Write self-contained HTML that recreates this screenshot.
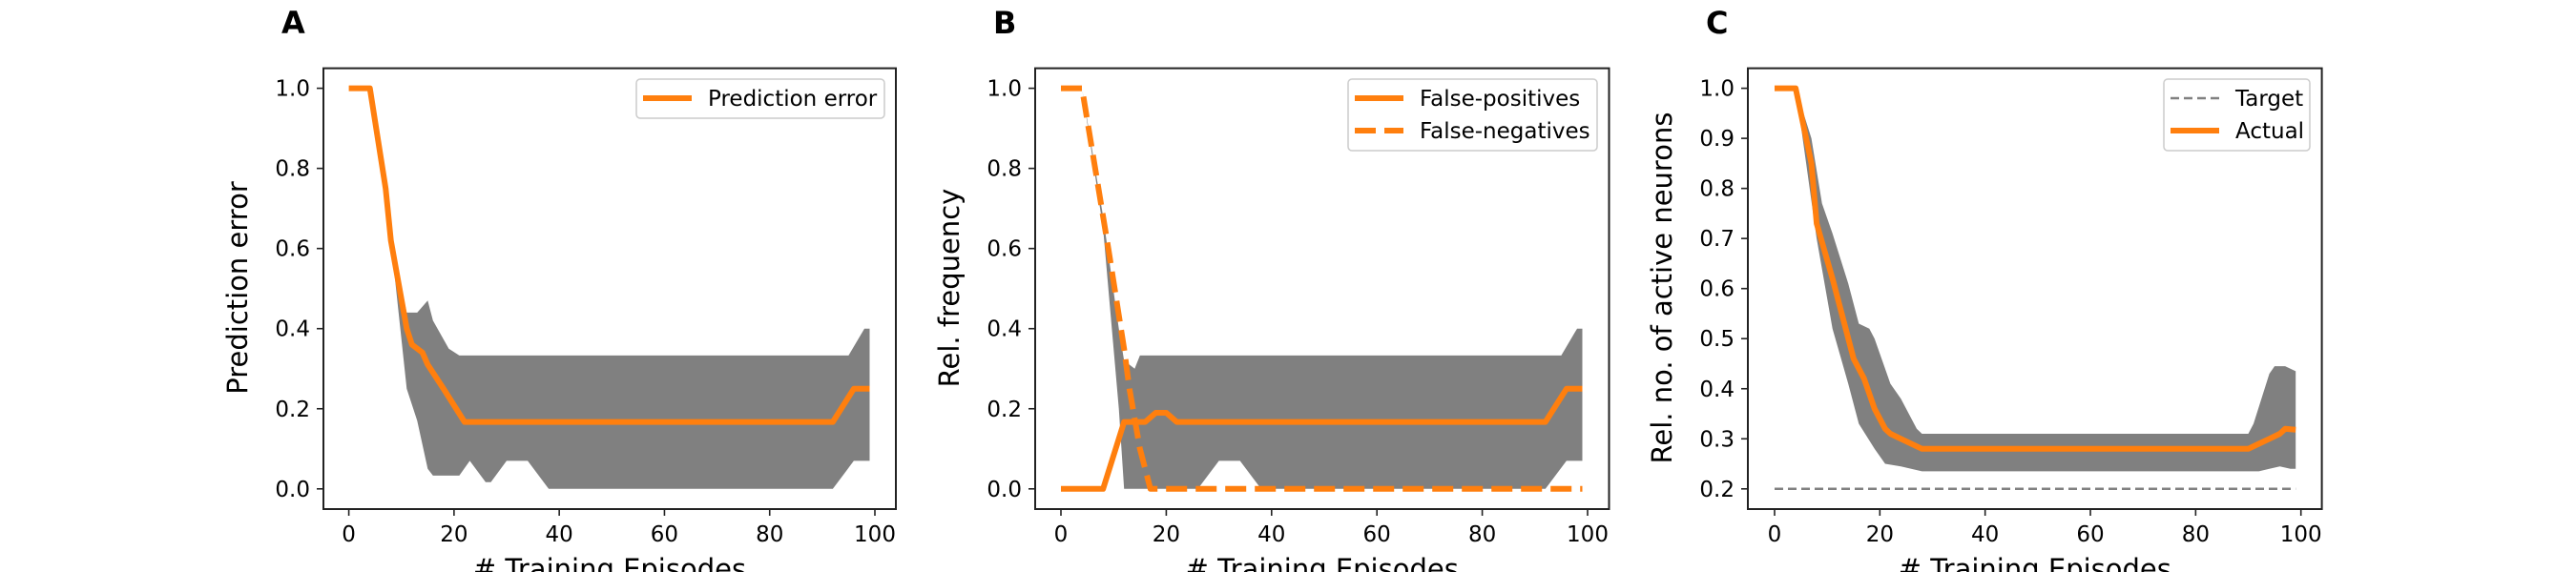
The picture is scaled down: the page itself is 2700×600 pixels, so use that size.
<!DOCTYPE html>
<html><head><meta charset="utf-8"><style>
html,body{margin:0;padding:0;background:#fff;}
svg{display:block;font-family:"DejaVu Sans","Liberation Sans",sans-serif;}
</style></head><body>
<svg id="fig" width="2700" height="600" viewBox="0 0 2700 600" xmlns="http://www.w3.org/2000/svg"></svg>
<script>
// ---- data (vertices of each polyline) ----
const aMeanX = [0,4,7,8,11,12,14,15,18,22,92,96,99];
const aMeanY = [1,1,0.75,0.62,0.4,0.36,0.34,0.31,0.25,0.167,0.167,0.25,0.25];
const aUpX = [0,4,7,8,11,13,15,16,19,21,95,98,99];
const aUpY = [1,1,0.75,0.62,0.44,0.44,0.47,0.42,0.35,0.333,0.333,0.4,0.4];
const aLoX = [0,4,7,8,11,13,15,16,21,23,26,27,30,34,38,92,96,99];
const aLoY = [1,1,0.75,0.62,0.25,0.17,0.05,0.033,0.033,0.07,0.017,0.017,0.07,0.07,0,0,0.07,0.07];

const bFpX = [0,8,12,16,18,20,22,92,96,99];
const bFpY = [0,0,0.167,0.167,0.19,0.19,0.167,0.167,0.25,0.25];
const bFnX = [0,4,9,12,13,15,17,99];
const bFnY = [1,1,0.6,0.35,0.25,0.1,0,0];
const bUpX = [0,4,8,11,12,13,14,15,95,98,99];
const bUpY = [1,1,0.68,0.4,0.32,0.31,0.3,0.333,0.333,0.4,0.4];
const bLoX = [0,4,8,11,12,26,30,34,38,92,96,99];
const bLoY = [1,1,0.65,0.2,0,0,0.07,0.07,0,0,0.07,0.07];

const cMeanX = [0,4,7,8,11,15,17,19,21,22,24,28,90,92,94,96,97,99];
const cMeanY = [1,1,0.85,0.73,0.62,0.46,0.42,0.36,0.32,0.31,0.30,0.28,0.28,0.29,0.30,0.31,0.32,0.318];
const cUpX = [0,4,7,9,11,14,16,18,19,22,24,27,28,90,91,94,95,97,99];
const cUpY = [1,1,0.9,0.77,0.71,0.61,0.53,0.52,0.5,0.41,0.38,0.32,0.31,0.31,0.33,0.43,0.445,0.445,0.435];
const cLoX = [0,4,8,11,14,16,19,21,24,28,92,94,96,98,99];
const cLoY = [1,1,0.7,0.52,0.41,0.33,0.28,0.25,0.245,0.235,0.235,0.24,0.245,0.24,0.24];
const cTargetX = [0,99];
const cTargetY = [0.2,0.2];

const xTicks = [0,20,40,60,80,100];
const yTicksAB = [0,0.2,0.4,0.6,0.8,1.0];
const yTicksC = [0.2,0.3,0.4,0.5,0.6,0.7,0.8,0.9,1.0];

// ---- drawing ----
const NS = "http://www.w3.org/2000/svg";
const svg = document.getElementById('fig');
function mk(tag, attrs, parent){
  const e = document.createElementNS(NS, tag);
  for (const k in attrs) e.setAttribute(k, attrs[k]);
  (parent||svg).appendChild(e);
  return e;
}
const ORANGE = "#ff7f0e";
const TOP = 71.6, BOT = 534;

function panel(cfg){
  const g = mk('g', {});
  
  
  const xs = v => cfg.x0 + (v - 0) * (cfg.x100 - cfg.x0) / 100;
  const ys = v => cfg.yA + (v - cfg.vA) * (cfg.yB - cfg.yA) / (cfg.vB - cfg.vA);
  const pts = (X, Y) => X.map((x, i) => xs(x).toFixed(1) + ',' + ys(Y[i]).toFixed(1));
  const up = pts(cfg.upX, cfg.upY);
  const lo = pts(cfg.loX, cfg.loY).reverse();
  const band = mk('polygon', {points: up.concat(lo).join(' '), fill: '#808080', stroke: 'none'}, g);
  
  
  cfg.lines.forEach(l => {
    const p = mk('polyline', {points: pts(l.x, l.y).join(' '), fill: 'none', stroke: l.color,
      'stroke-width': l.w, 'stroke-dasharray': l.dash || 'none', 'stroke-linejoin': 'round'}, g);
    
    
  });
  const fr = mk('rect', {x: cfg.left, y: TOP, width: cfg.right - cfg.left, height: BOT - TOP, fill: 'none', stroke: '#222', 'stroke-width': 2}, g);
  
  
  xTicks.forEach(t => {
    const x = xs(t);
    mk('line', {x1: x, x2: x, y1: BOT, y2: BOT + 7, stroke: '#222', 'stroke-width': 1.6}, g);
    const tx = mk('text', {x: x, y: 568, 'font-size': 23, 'text-anchor': 'middle', fill: '#000'}, g);
    tx.textContent = String(t);
    
    
  });
  cfg.yTicks.forEach(t => {
    const y = ys(t);
    mk('line', {x1: cfg.left - 7, x2: cfg.left, y1: y, y2: y, stroke: '#222', 'stroke-width': 1.6}, g);
    const tx = mk('text', {x: cfg.left - 14, y: y + 8, 'font-size': 23, 'text-anchor': 'end', fill: '#000'}, g);
    tx.textContent = t.toFixed(1);
    
    
  });
  const cx = (cfg.left + cfg.right) / 2;
  const xl = mk('text', {x: cx, y: 607, 'font-size': 29, 'text-anchor': 'middle', fill: '#000'}, g);
  xl.textContent = '# Training Episodes';
  
  
  const ly = cfg.yLabelY, lx = cfg.left - 80;
  const yl = mk('text', {x: lx, y: ly, 'font-size': 29, 'text-anchor': 'middle', fill: '#000', transform: `rotate(-90 ${lx} ${ly})`}, g);
  yl.textContent = cfg.ylabel;
  
  
  const pl = mk('text', {x: cfg.left - 44, y: 35, 'font-size': 32, 'font-weight': 'bold', fill: '#000'}, g);
  pl.textContent = cfg.letter;
  
  
  const L = cfg.legend;
  const lg = mk('g', {}, g);
  
  
  mk('rect', {x: L.x, y: 83, width: L.w, height: L.h, rx: 4, fill: '#fff', 'fill-opacity': 0.8, stroke: '#ccc', 'stroke-width': 1.5}, lg);
  L.entries.forEach((en, i) => {
    const y = 103 + i * 34;
    const eg = mk('g', {}, lg);
    
    
    mk('line', {x1: L.x + 7, x2: L.x + 58, y1: y, y2: y, stroke: en.color, 'stroke-width': en.w, 'stroke-dasharray': en.dash || 'none'}, eg);
    const t = mk('text', {x: L.x + 75, y: y + 8, 'font-size': 23, fill: '#000'}, eg);
    t.textContent = en.label;
  });
}

panel({name: 'panel-a-prediction-error', letter: 'A', left: 339, right: 939, x0: 365.6, x100: 917,
  yA: 512.8, vA: 0, yB: 92.6, vB: 1, yTicks: yTicksAB, ylabel: 'Prediction error', yLabelY: 302,
  upX: aUpX, upY: aUpY, loX: aLoX, loY: aLoY,
  lines: [{name: 'prediction-error-line', x: aMeanX, y: aMeanY, color: ORANGE, w: 6}],
  legend: {x: 667, w: 260, h: 41, entries: [{label: 'Prediction error', color: ORANGE, w: 6}]}});

panel({name: 'panel-b-false-rates', letter: 'B', left: 1085, right: 1686.5, x0: 1112, x100: 1664,
  yA: 512.8, vA: 0, yB: 92.6, vB: 1, yTicks: yTicksAB, ylabel: 'Rel. frequency', yLabelY: 302,
  upX: bUpX, upY: bUpY, loX: bLoX, loY: bLoY,
  lines: [{name: 'false-positives-line', x: bFpX, y: bFpY, color: ORANGE, w: 6},
          {name: 'false-negatives-line', x: bFnX, y: bFnY, color: ORANGE, w: 6, dash: '22 9'}],
  legend: {x: 1413, w: 261, h: 75, entries: [{label: 'False-positives', color: ORANGE, w: 6},
          {label: 'False-negatives', color: ORANGE, w: 6, dash: '22 9'}]}});

panel({name: 'panel-c-active-neurons', letter: 'C', left: 1832, right: 2433.6, x0: 1860, x100: 2411.7,
  yA: 512.8, vA: 0.2, yB: 92.6, vB: 1, yTicks: yTicksC, ylabel: 'Rel. no. of active neurons', yLabelY: 302,
  upX: cUpX, upY: cUpY, loX: cLoX, loY: cLoY,
  lines: [{name: 'target-line', x: cTargetX, y: cTargetY, color: '#808080', w: 2.5, dash: '9 5'},
          {name: 'actual-line', x: cMeanX, y: cMeanY, color: ORANGE, w: 6}],
  legend: {x: 2268, w: 153, h: 75, entries: [{label: 'Target', color: '#808080', w: 2.5, dash: '9 5'},
          {label: 'Actual', color: ORANGE, w: 6}]}});
</script>
</body></html>
